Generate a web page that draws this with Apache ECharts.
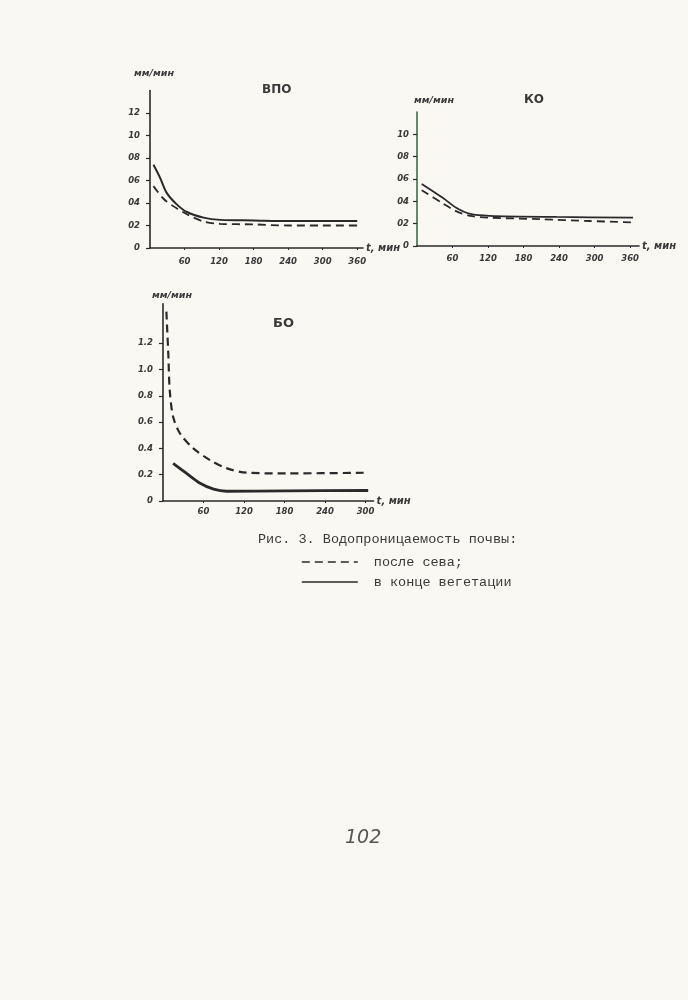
<!DOCTYPE html>
<html>
<head>
<meta charset="utf-8">
<script src="https://cdn.jsdelivr.net/npm/echarts@6/dist/echarts.min.js"></script>
<style>
html,body{margin:0;padding:0;background:#f9f8f3;}
#c{width:688px;height:1000px;}
</style>
</head>
<body>
<div id="c"></div>
<script>
// ---- Chart titles / text ----
const chartTitles = ['ВПО', 'КО', 'БО'];
const seriesNames = ['после сева;', 'в конце вегетации'];
const yName = 'мм/мин';
const xName = 't, мин';
const caption = 'Рис. 3. Водопроницаемость почвы:';
const pageNumber = '102';

// ---- Tick labels ----
const yTickValsTop = [0, 0.2, 0.4, 0.6, 0.8, 1.0, 1.2];
const yTickTextVPO = ['0', '02', '04', '06', '08', '10', '12'];
const yTickValsKO = [0, 0.2, 0.4, 0.6, 0.8, 1.0];
const yTickTextKO = ['0', '02', '04', '06', '08', '10'];
const yTickValsBO = [0, 0.2, 0.4, 0.6, 0.8, 1.0, 1.2];
const yTickTextBO = ['0', '0.2', '0.4', '0.6', '0.8', '1.0', '1.2'];
const xTickVals360 = [60, 120, 180, 240, 300, 360];
const xTickVals300 = [60, 120, 180, 240, 300];

// ---- ВПО data (t, мин ; мм/мин) ----
const vpoAfterT = [6, 23, 41, 64, 93, 122, 180, 240, 300, 360];
const vpoAfterV = [0.55, 0.44, 0.37, 0.30, 0.235, 0.215, 0.21, 0.20, 0.20, 0.20];
const vpoEndT = [6, 17, 29, 46, 64, 93, 122, 180, 240, 300, 360];
const vpoEndV = [0.74, 0.63, 0.49, 0.39, 0.32, 0.27, 0.25, 0.245, 0.24, 0.24, 0.24];

// ---- КО data ----
const koAfterT = [8, 44, 67, 90, 123, 208, 292, 370];
const koAfterV = [0.50, 0.38, 0.31, 0.27, 0.254, 0.24, 0.224, 0.21];
const koEndT = [8, 44, 67, 90, 123, 236, 365];
const koEndV = [0.556, 0.43, 0.34, 0.287, 0.27, 0.26, 0.254];

// ---- БО data ----
const boAfterT = [5, 8, 10, 15, 25, 45, 70, 94, 124, 183, 302];
const boAfterV = [1.44, 1.10, 0.84, 0.64, 0.515, 0.40, 0.31, 0.25, 0.215, 0.21, 0.215];
const boEndT = [15, 35, 55, 75, 94, 183, 304];
const boEndV = [0.287, 0.21, 0.135, 0.09, 0.074, 0.077, 0.08];

const pairs = (t, v) => t.map((x, i) => [x, v[i]]);
const ink = '#2a2a2a';
const hand = {fontFamily: 'DejaVu Sans', fontStyle: 'italic', fontWeight: 'bold', color: '#3a3a3a'};
const mono = 'Liberation Mono';

function labelFmt(vals, texts) {
  return function (v) {
    for (let i = 0; i < vals.length; i++) if (Math.abs(vals[i] - v) < 1e-6) return texts[i];
    return '';
  };
}

function xAxisCfg(gi, max, ticks, margin, namePad, axisColor) {
  return {
    type: 'value', gridIndex: gi, min: 0, max: max,
    name: xName, nameLocation: 'end', nameGap: 3,
    nameTextStyle: Object.assign({}, hand, {fontSize: 10, padding: namePad}),
    axisLine: {show: true, onZero: false, lineStyle: {color: axisColor || ink, width: 1.6}},
    axisTick: {show: true, length: 2, customValues: ticks, lineStyle: {color: ink}},
    axisLabel: Object.assign({}, hand, {fontSize: 8.5, margin: margin, customValues: ticks}),
    splitLine: {show: false}
  };
}
function yAxisCfg(gi, max, vals, texts, margin, nameGap, namePadLeft, axisColor) {
  return {
    type: 'value', gridIndex: gi, min: 0, max: max,
    name: yName, nameLocation: 'end', nameGap: nameGap,
    nameTextStyle: Object.assign({}, hand, {fontSize: 9.5, align: 'center', padding: [0, 0, 0, namePadLeft]}),
    axisLine: {show: true, onZero: false, lineStyle: {color: axisColor || ink, width: 1.6}},
    axisTick: {show: true, length: 4, customValues: vals, lineStyle: {color: ink, width: 1.2}},
    axisLabel: Object.assign({}, hand, {fontSize: 8.5, margin: margin, customValues: vals, formatter: labelFmt(vals, texts)}),
    splitLine: {show: false}
  };
}
function line(name, gi, data, dashed, width) {
  return {
    type: 'line', name: name, xAxisIndex: gi, yAxisIndex: gi,
    data: data, smooth: 0.3, symbol: 'none', showSymbol: false,
    lineStyle: {color: ink, width: width, type: dashed ? [8, 5] : 'solid'},
    itemStyle: {color: ink},
    z: 3
  };
}

const chart = echarts.init(document.getElementById('c'), null, {renderer: 'canvas'});
chart.setOption({
  backgroundColor: '#f9f8f3',
  animation: false,
  title: [
    {text: chartTitles[0], left: 257, top: 79, textStyle: Object.assign({}, hand, {fontSize: 12, fontStyle: 'normal'})},
    {text: chartTitles[1], left: 519, top: 89, textStyle: Object.assign({}, hand, {fontSize: 12, fontStyle: 'normal'})},
    {text: chartTitles[2], left: 268, top: 312, textStyle: Object.assign({}, hand, {fontSize: 13, fontStyle: 'normal'})}
  ],
  grid: [
    {left: 150, top: 90.5, width: 213, height: 157.5},
    {left: 417, top: 112, width: 222, height: 134},
    {left: 163, top: 303.75, width: 210.6, height: 197.25}
  ],
  xAxis: [
    xAxisCfg(0, 370, xTickVals360, 9, [16, 0, 0, 0]),
    xAxisCfg(1, 375, xTickVals360, 8, [0, 0, 0, 0]),
    xAxisCfg(2, 312, xTickVals300, 6, [0, 0, 12, 0])
  ],
  yAxis: [
    yAxisCfg(0, 1.4, yTickValsTop, yTickTextVPO, 10, 12, 8),
    yAxisCfg(1, 1.2, yTickValsKO, yTickTextKO, 8, 6, 34, '#3d6e44'),
    yAxisCfg(2, 1.5, yTickValsBO, yTickTextBO, 10, 3, 18)
  ],
  legend: {
    orient: 'vertical', left: 301, top: 555, itemGap: 6, padding: 0,
    itemWidth: 56, itemHeight: 12,
    data: seriesNames,
    itemStyle: {opacity: 0},
    lineStyle: {width: 1.6},
    textStyle: {fontFamily: mono, fontSize: 13.5, color: '#3a3a3a', padding: [0, 0, 0, 11]},
    selectedMode: false
  },
  series: [
    line(seriesNames[0], 0, pairs(vpoAfterT, vpoAfterV), true, 1.8),
    line(seriesNames[1], 0, pairs(vpoEndT, vpoEndV), false, 2),
    line(seriesNames[0], 1, pairs(koAfterT, koAfterV), true, 1.8),
    line(seriesNames[1], 1, pairs(koEndT, koEndV), false, 1.8),
    line(seriesNames[0], 2, pairs(boAfterT, boAfterV), true, 2.2),
    line(seriesNames[1], 2, pairs(boEndT, boEndV), false, 2.8)
  ],
  graphic: [
    {type: 'text', left: 258, top: 532, style: {text: caption, font: '13.5px "Liberation Mono"', fill: '#3a3a3a'}},
    {type: 'text', left: 345, top: 829, style: {text: pageNumber, font: 'italic 19px "DejaVu Sans"', fill: '#555'}}
  ]
});
</script>
</body>
</html>
